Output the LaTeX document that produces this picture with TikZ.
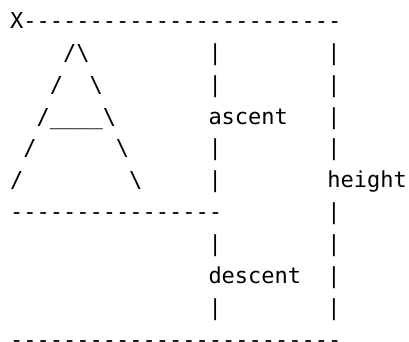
\documentclass[tikz,border=0pt]{standalone}
\usepackage{fontspec}
\setmonofont{DejaVu Sans Mono}

\tikzset{glyph/.style={font=\ttfamily\fontsize{22}{22}\selectfont, inner sep=0pt, anchor=base west}}

\begin{document}
\begin{tikzpicture}[x=13.22pt, y=-31.85pt]
    \useasboundingbox (-10pt,28.5pt) rectangle (399pt,-312.5pt);
    \node[glyph] (top) at (0,0) {X------------------------};
    \node[glyph] (apex) at (4,1) {/\textbackslash};
    \node[glyph] (abar1) at (15,1) {|};
    \node[glyph] (hbar1) at (24,1) {|};
    \node[glyph] (left2) at (3,2) {/};
    \node[glyph] (right2) at (6,2) {\textbackslash};
    \node[glyph] (abar2) at (15,2) {|};
    \node[glyph] (hbar2) at (24,2) {|};
    \node[glyph] (cross) at (2,3) {/\_\_\_\_\textbackslash};
    \node[glyph] (ascent) at (15,3) {ascent};
    \node[glyph] (hbar3) at (24,3) {|};
    \node[glyph] (left4) at (1,4) {/};
    \node[glyph] (right4) at (8,4) {\textbackslash};
    \node[glyph] (abar4) at (15,4) {|};
    \node[glyph] (hbar4) at (24,4) {|};
    \node[glyph] (left5) at (0,5) {/};
    \node[glyph] (right5) at (9,5) {\textbackslash};
    \node[glyph] (abar5) at (15,5) {|};
    \node[glyph] (height) at (24,5) {height};
    \node[glyph] (base) at (0,6) {----------------};
    \node[glyph] (hbar6) at (24,6) {|};
    \node[glyph] (dbar7) at (15,7) {|};
    \node[glyph] (hbar7) at (24,7) {|};
    \node[glyph] (descent) at (15,8) {descent};
    \node[glyph] (hbar8) at (24,8) {|};
    \node[glyph] (dbar9) at (15,9) {|};
    \node[glyph] (hbar9) at (24,9) {|};
    \node[glyph] (bottom) at (0,10) {-------------------------};
\end{tikzpicture}
\end{document}
